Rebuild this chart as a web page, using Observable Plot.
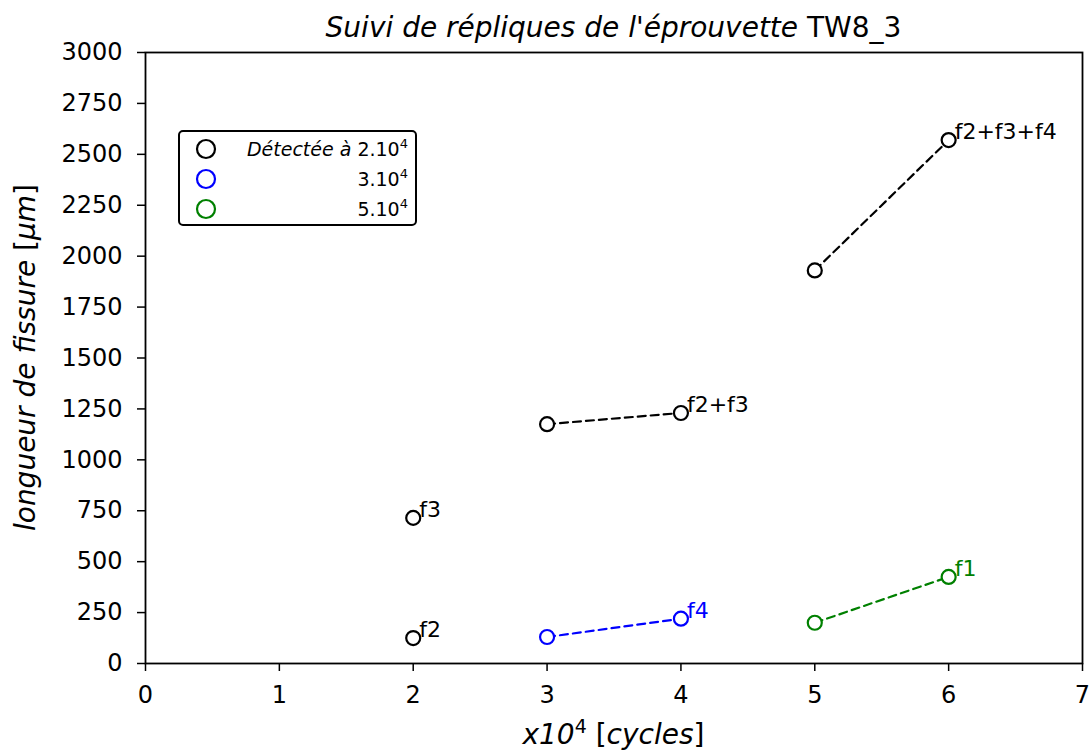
<!DOCTYPE html>
<html>
<head>
<meta charset="utf-8">
<script src="https://cdn.jsdelivr.net/npm/d3@7"></script>
<script src="https://cdn.jsdelivr.net/npm/@observablehq/plot@0.6"></script>
<style>
  html, body { margin: 0; padding: 0; background: white; }
  #chart { width: 1089px; height: 751px; }
</style>
</head>
<body>
<div id="chart"></div>
<script>
// ---- data ----
const cycles    = [2, 2, 3, 4, 5, 6, 3, 4, 5, 6];          // x10^4 cycles
const lengths   = [125, 715, 1175, 1230, 1930, 2570, 130, 220, 200, 425]; // µm
const detection = ["2", "2", "2", "2", "2", "2", "3", "3", "5", "5"];
const track     = ["a", "b", "c", "c", "d", "d", "e", "e", "f", "f"];
const labels    = ["f2", "f3", "", "f2+f3", "", "f2+f3+f4", "", "f4", "", "f1"];

const detectionKeys   = ["2", "3", "5"];
const detectionColors = ["#000000", "#0000ff", "#008000"];
const legendPrefix    = ["Détectée à ", "", ""];
const legendBase      = ["2.10", "3.10", "5.10"];

const xTicks = [0, 1, 2, 3, 4, 5, 6, 7];
const yTicks = [0, 250, 500, 750, 1000, 1250, 1500, 1750, 2000, 2250, 2500, 2750, 3000];

const rows = cycles.map((c, i) => ({
  x: c, y: lengths[i], det: detection[i], track: track[i], label: labels[i]
}));

const W = 1089, H = 751;
const mL = 145, mR = 7, mT = 52, mB = 88;

const plot = Plot.plot({
  width: W, height: H,
  marginLeft: mL, marginRight: mR, marginTop: mT, marginBottom: mB,
  style: { fontFamily: "DejaVu Sans", fontSize: "24px", background: "white", color: "black" },
  x: { domain: [0, 7], ticks: xTicks, label: null },
  y: { domain: [0, 3000], ticks: yTicks, label: null },
  color: { domain: detectionKeys, range: detectionColors },
  marks: [
    Plot.axisX({ ticks: xTicks, tickFormat: d3.format("d"), tickSize: 8, tickPadding: 14, fontSize: 24, label: null, strokeWidth: 1.5 }),
    Plot.axisY({ ticks: yTicks, tickFormat: d3.format("d"), tickSize: 8, tickPadding: 15, fontSize: 24, label: null, strokeWidth: 1.5 }),
    Plot.line(rows, { x: "x", y: "y", z: "track", stroke: "det", strokeWidth: 2.2, strokeDasharray: "8,5" }),
    Plot.dot(rows, { x: "x", y: "y", stroke: "det", fill: "white", r: 7, strokeWidth: 2.2 }),
    Plot.text(rows.filter(d => d.label), { x: "x", y: "y", text: "label", fill: "det", textAnchor: "start", dx: 6, dy: -8, fontSize: 22 }),
    Plot.frame({ stroke: "black", strokeWidth: 1.8 })
  ]
});

document.getElementById("chart").appendChild(plot);

const svg = d3.select(plot);
const plotCx = mL + (W - mL - mR) / 2;
const plotCy = mT + (H - mT - mB) / 2;

// Title
const title = svg.append("text")
  .attr("x", plotCx).attr("y", 37)
  .attr("text-anchor", "middle")
  .style("font-family", "DejaVu Sans").style("font-size", "28px").attr("fill", "black");
title.append("tspan").style("font-style", "italic").text("Suivi de répliques de l'éprouvette ");
title.append("tspan").text("TW8_3");

// X label
const xl = svg.append("text")
  .attr("x", plotCx).attr("y", 744)
  .attr("text-anchor", "middle")
  .style("font-family", "DejaVu Sans").style("font-size", "28px").attr("fill", "black");
xl.append("tspan").style("font-style", "italic").text("x10");
xl.append("tspan").attr("dy", -11).style("font-size", "19px").text("4");
xl.append("tspan").attr("dy", 11).text(" [");
xl.append("tspan").style("font-style", "italic").text("cycles");
xl.append("tspan").text("]");

// Y label
const yl = svg.append("text")
  .attr("transform", `translate(35,${plotCy}) rotate(-90)`)
  .attr("text-anchor", "middle")
  .style("font-family", "DejaVu Sans").style("font-size", "28px").attr("fill", "black");
yl.append("tspan").style("font-style", "italic").text("longueur de fissure ");
yl.append("tspan").text("[");
yl.append("tspan").style("font-style", "italic").text("μm");
yl.append("tspan").text("]");

// Legend
const lg = svg.append("g").attr("transform", "translate(179,131)");
lg.append("rect").attr("width", 237).attr("height", 94).attr("rx", 4)
  .attr("fill", "white").attr("stroke", "black").attr("stroke-width", 2);
detectionKeys.forEach((k, i) => {
  const cy = 18 + i * 30;
  lg.append("circle").attr("cx", 27).attr("cy", cy).attr("r", 9)
    .attr("fill", "none").attr("stroke", detectionColors[i]).attr("stroke-width", 2.2);
  const t = lg.append("text").attr("x", 229).attr("y", cy + 7)
    .attr("text-anchor", "end")
    .style("font-family", "DejaVu Sans").style("font-size", "19px").attr("fill", "black");
  if (legendPrefix[i]) t.append("tspan").style("font-style", "italic").text(legendPrefix[i]);
  t.append("tspan").text(legendBase[i]);
  t.append("tspan").attr("dy", -8).style("font-size", "13px").text("4");
});
</script>
</body>
</html>
